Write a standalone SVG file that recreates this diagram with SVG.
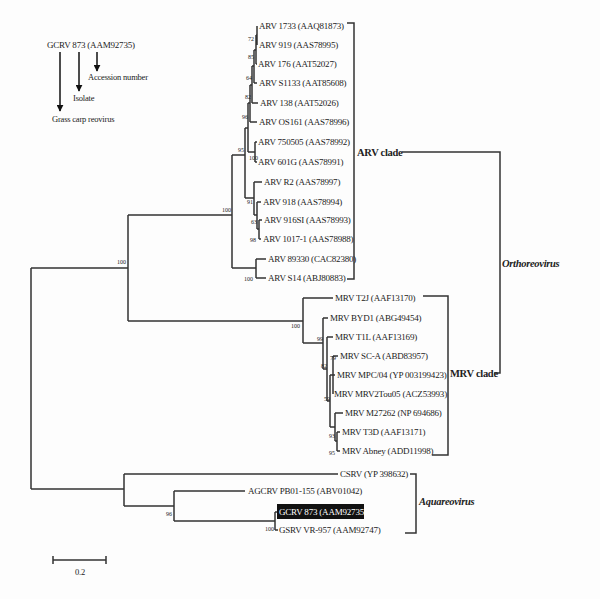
<svg xmlns="http://www.w3.org/2000/svg" width="600" height="599" viewBox="0 0 600 599">
<style>
text{font-family:"Liberation Serif",serif;font-size:9px;letter-spacing:-0.2px;fill:#222}
.b{font-size:8.5px}
.s{font-size:6px;letter-spacing:0}
.c{font-weight:bold;font-size:10.5px;letter-spacing:-0.3px}
.i{font-style:italic;font-weight:bold;font-size:10.5px;letter-spacing:-0.3px}
path{fill:none;stroke:#333;stroke-width:1.5}
</style>
<defs><marker id="a" viewBox="0 0 10 10" refX="9" refY="5" markerWidth="7" markerHeight="7" markerUnits="userSpaceOnUse" orient="auto"><path d="M0,0 L10,5 L0,10z" style="fill:#111;stroke:none"/></marker></defs>
<rect width="600" height="599" fill="#fdfdfd"/>
<g id="legend">
<text x="47" y="48">GCRV 873 (AAM92735)</text>
<path d="M60,52V111" style="stroke:#111" marker-end="url(#a)"/>
<path d="M79,52V91" style="stroke:#111" marker-end="url(#a)"/>
<path d="M97,52V71" style="stroke:#111" marker-end="url(#a)"/>
<text x="88" y="80" class="b">Accession number</text>
<text x="73" y="101" class="b">Isolate</text>
<text x="52" y="122" class="b">Grass carp reovirus</text>
</g>
<g id="connectors">
<path d="M31,268V489M31,268H128M31,489H124"/>
<path d="M128,215V321M128,215H232M128,321H303"/>
<path d="M232,155V268M232,155H245M232,268H256M256,259V278M256,259H266M256,278H266"/>
<path d="M245,128V198M245,128H248M245,198H254"/>
<path d="M248,103V152M248,103H250M248,152H255M255,142V162M255,142H257M255,162H257"/>
<path d="M250,85V122M250,85H252M250,122H257M252,66V103M252,66H254M252,103H258M254,50V83M254,50H256M254,83H257M256,35V64M256,35H257M256,64H257M257,26V45"/>
<path d="M254,182V215M254,182H262M254,215H257M257,202V229M257,202H261M257,229H259M259,220V239M259,220H262M259,239H261"/>
<path d="M303,298V343M303,298H333M303,343H323M323,318V369M323,318H328M323,369H327M327,337V401M327,337H333M327,401H330M330,375V427M330,375H333M330,427H335M333,356V394M333,356H338M333,375H335M335,413V441M335,413H343M335,441H337M337,432V451M337,432H340M337,451H340"/>
<path d="M124,474V506M124,474H338M124,506H174M174,491V521M174,491H245M174,521H275M275,512V530M275,512H278M275,530H278"/>
<path d="M347,23H354V279H347M402,152H500V373H494M423,296H448V455H432M410,474H416V533H405"/>
<path d="M53,560H106M53,556V564M106,556V564"/>
</g>
<g id="support" class="s">
<text x="248" y="41" class="s">72</text><text x="248" y="59" class="s">85</text><text x="246" y="80" class="s">64</text><text x="245" y="99" class="s">82</text><text x="242" y="119" class="s">96</text><text x="249" y="160" class="s">100</text><text x="238" y="152" class="s">95</text><text x="247" y="204" class="s">91</text><text x="251" y="224" class="s">63</text><text x="250" y="242" class="s">98</text><text x="222" y="212" class="s">100</text><text x="244" y="281" class="s">100</text><text x="117" y="264" class="s">100</text><text x="291" y="328" class="s">100</text><text x="317" y="341" class="s">99</text><text x="330" y="360" class="s">79</text><text x="321" y="368" class="s">82</text><text x="324" y="401" class="s">59</text><text x="329" y="438" class="s">93</text><text x="329" y="455" class="s">95</text><text x="166" y="516" class="s">96</text><text x="265" y="531" class="s">100</text>
</g>
<g id="arv">
<text x="259" y="29">ARV 1733 (AAQ81873)</text><text x="259" y="48">ARV 919 (AAS78995)</text><text x="258" y="67">ARV 176 (AAT52027)</text><text x="259" y="86">ARV S1133 (AAT85608)</text><text x="260" y="106">ARV 138 (AAT52026)</text><text x="259" y="125">ARV OS161 (AAS78996)</text><text x="258" y="145">ARV 750505 (AAS78992)</text><text x="258" y="165">ARV 601G (AAS78991)</text><text x="264" y="185">ARV R2 (AAS78997)</text><text x="263" y="205">ARV 918 (AAS78994)</text><text x="264" y="223">ARV 916SI (AAS78993)</text><text x="263" y="242">ARV 1017-1 (AAS78988)</text><text x="268" y="262">ARV 89330 (CAC82380)</text><text x="268" y="281">ARV S14 (ABJ80883)</text>
</g>
<g id="mrv">
<text x="335" y="301">MRV T2J (AAF13170)</text><text x="330" y="321">MRV BYD1 (ABG49454)</text><text x="335" y="340">MRV T1L (AAF13169)</text><text x="340" y="359">MRV SC-A (ABD83957)</text><text x="337" y="378">MRV MPC/04 (YP 003199423)</text><text x="334" y="397">MRV MRV2Tou05 (ACZ53993)</text><text x="345" y="416">MRV M27262 (NP 694686)</text><text x="342" y="435">MRV T3D (AAF13171)</text><text x="342" y="454">MRV Abney (ADD11998)</text>
</g>
<g id="aqua">
<text x="340" y="477">CSRV (YP 398632)</text><text x="248" y="494">AGCRV PB01-155 (ABV01042)</text>
<rect x="277" y="504" width="87" height="15" fill="#111"/><text x="279" y="515" style="fill:#fff">GCRV 873 (AAM92735)</text>
<text x="279" y="533">GSRV VR-957 (AAM92747)</text>
</g>
<g id="clades">
<text x="357" y="156" class="c">ARV clade</text><text x="450" y="377" class="c">MRV clade</text><text x="502" y="267" class="i">Orthoreovirus</text><text x="419" y="505" class="i">Aquareovirus</text>
<text x="75" y="575" class="b">0.2</text>
</g>
</svg>
